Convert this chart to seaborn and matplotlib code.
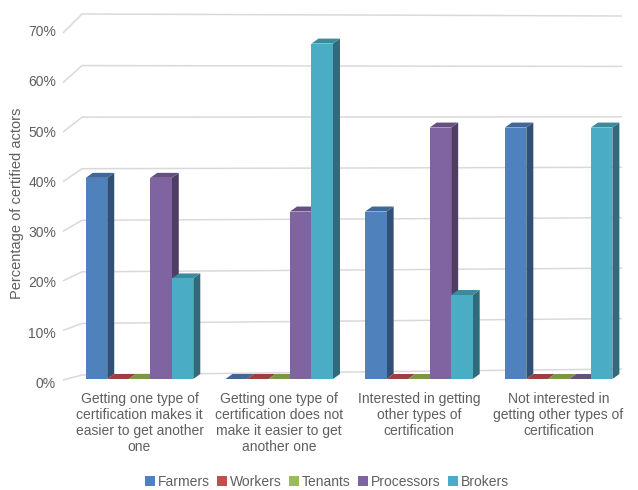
import numpy as np
import pandas as pd
import matplotlib
matplotlib.use("Agg")
import matplotlib.pyplot as plt
import matplotlib.colors as mc
from matplotlib.patches import Polygon, Rectangle
from matplotlib.transforms import IdentityTransform, ScaledTranslation
import seaborn as sns

# ---------------- data ----------------
categories = [
    "Getting one type of\ncertification makes it\neasier to get another\none",
    "Getting one type of\ncertification does not\nmake it easier to get\nanother one",
    "Interested in getting\nother types of\ncertification",
    "Not interested in\ngetting other types of\ncertification",
]
actors = ["Farmers", "Workers", "Tenants", "Processors", "Brokers"]
farmers = [40, 0, 33.3, 50]
workers = [0, 0, 0, 0]
tenants = [0, 0, 0, 0]
processors = [40, 33.3, 50, 0]
brokers = [20, 66.7, 16.7, 50]
colors = ["#4F81BD", "#C0504D", "#9BBB59", "#8064A2", "#4BACC6"]
y_ticks = [0, 10, 20, 30, 40, 50, 60, 70]
y_tick_labels = [f"{v}%" for v in y_ticks]

rows = []
for actor, vals in zip(actors, [farmers, workers, tenants, processors, brokers]):
    for cat, v in zip(categories, vals):
        rows.append({"category": cat, "actor": actor, "value": v})
df = pd.DataFrame(rows)

# ---------------- style ----------------
sns.set_theme(style="white")
plt.rcParams["font.family"] = ["Liberation Sans", "DejaVu Sans"]
TXT = "#5f5f5f"
GRID = "#d9d9d9"
FS = 10

W, H = 638, 490
fig = plt.figure(figsize=(W / 100, H / 100), dpi=100)

# background "walls" drawn in pixel space (perspective gridlines)
bg = fig.add_axes([0, 0, 1, 1])
bg.set_xlim(0, W)
bg.set_ylim(H, 0)
bg.axis("off")
bg.set_zorder(0)


def y_front(v):
    return 380 - v * (347 / 70)


def y_left(v):
    return 375 - v * (361 / 70)


def y_right(v):
    return 369 - v * (353 / 70)


for v in y_ticks:
    bg.plot([63, 82, 622], [y_front(v), y_left(v), y_right(v)],
            color=GRID, lw=1.1, solid_capstyle="butt")

# main axes
ax = fig.add_axes([63 / W, (H - 379) / H, (622 - 63) / W, 352 / H])
ax.set_zorder(1)
ax.patch.set_alpha(0)

sns.barplot(data=df, x="category", y="value", hue="actor", order=categories,
            hue_order=actors, palette=colors, width=0.77, saturation=1,
            linewidth=0, ax=ax)

ax.set_ylim(0, 70)
ax.set_xlim((63 - 139.5) / 139.7, (622 - 139.5) / 139.7)
ax.set_yticks(y_ticks, y_tick_labels)
ax.set_xticks(range(len(categories)), categories)
ax.tick_params(axis="y", length=0, pad=5, labelsize=FS, labelcolor=TXT)
ax.tick_params(axis="x", length=0, pad=9, labelsize=FS, labelcolor=TXT)
for t in ax.get_xticklabels():
    t.set_linespacing(1.2)
ax.set_xlabel("")
ax.set_ylabel("Percentage of certified actors", fontsize=10.5, color=TXT, labelpad=3)
ax.grid(False)
for s in ax.spines.values():
    s.set_visible(False)

# nudge y tick labels down to the front edge of the floor/wall slants
shift = ScaledTranslation(0, -3.5 / 100, fig.dpi_scale_trans)
for tick in ax.yaxis.get_major_ticks():
    tick.label1.set_transform(tick.label1.get_transform() + shift)

# 3D depth faces for each bar
DX, DY = 7, 5
bars = [p for p in ax.patches if isinstance(p, Rectangle) and p.get_width() > 0]
bars.sort(key=lambda p: p.get_x())
for k, p in enumerate(bars):
    x0, y0 = ax.transData.transform((p.get_x(), 0))
    x1, y1 = ax.transData.transform((p.get_x() + p.get_width(), p.get_height()))
    base = np.array(mc.to_rgb(p.get_facecolor()))
    side_c = base * 0.62
    top_c = base * 0.80
    side = Polygon([(x1, y0), (x1 + DX, y0 + DY), (x1 + DX, y1 + DY), (x1, y1)],
                   closed=True, facecolor=side_c, edgecolor="none",
                   transform=IdentityTransform(), clip_on=False, zorder=2 + 2 * k)
    top = Polygon([(x0, y1), (x0 + DX, y1 + DY), (x1 + DX, y1 + DY), (x1, y1)],
                  closed=True, facecolor=top_c, edgecolor="none",
                  transform=IdentityTransform(), clip_on=False, zorder=2 + 2 * k)
    ax.add_patch(side)
    ax.add_patch(top)
    p.set_zorder(3 + 2 * k)

sns.move_legend(ax, "center", bbox_to_anchor=(327 / W, 1 - 482 / H),
                bbox_transform=fig.transFigure, ncol=5, frameon=False,
                title=None, fontsize=FS, handlelength=0.7, handleheight=0.7,
                handletextpad=0.2, columnspacing=0.55, labelcolor=TXT,
                borderpad=0.1)

fig.savefig("out.png", dpi=100)
